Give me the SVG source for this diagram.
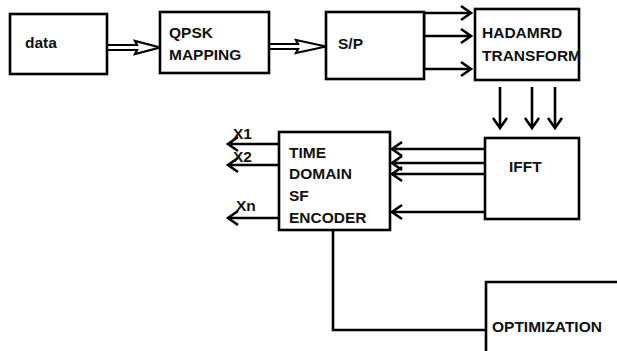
<svg xmlns="http://www.w3.org/2000/svg" width="617" height="351" viewBox="0 0 617 351">
<defs>
<style>
.box{fill:#fff;stroke:#000;stroke-width:2.6}
.ln{fill:none;stroke:#000;stroke-width:2.6}
.dbl{fill:none;stroke:#000;stroke-width:2.2;stroke-linejoin:miter}
text{font-family:"Liberation Sans",Arial,sans-serif;font-weight:bold;font-size:15.5px;fill:#111}
</style>
<marker id="chev" markerUnits="userSpaceOnUse" markerWidth="16" markerHeight="18" refX="12" refY="8" orient="auto" viewBox="0 0 16 16">
<path d="M2,1 L12,8 L2,15" fill="none" stroke="#000" stroke-width="2.6"/>
</marker>
</defs>
<rect width="617" height="351" fill="#fff"/>
<g id="connectors">
<path class="dbl" d="M107,45 H137 L135,41 L160,47.5 L135,54 L137,50 H107"/>
<path class="dbl" d="M269,44 H298 L296,40 L326,46.5 L296,53 L298,49 H269"/>
<path class="ln" d="M424,12 V69"/>
<path class="ln" d="M424,13 H471" marker-end="url(#chev)"/>
<path class="ln" d="M424,36 H471" marker-end="url(#chev)"/>
<path class="ln" d="M424,69 H471" marker-end="url(#chev)"/>
<path class="ln" d="M500,87 V128" marker-end="url(#chev)"/>
<path class="ln" d="M532,87 V128" marker-end="url(#chev)"/>
<path class="ln" d="M555,87 V128" marker-end="url(#chev)"/>
<path class="ln" d="M485,149 H392" marker-end="url(#chev)"/>
<path class="ln" d="M485,163 H392" marker-end="url(#chev)"/>
<path class="ln" d="M485,174 H392" marker-end="url(#chev)"/>
<path class="ln" d="M485,212 H392" marker-end="url(#chev)"/>
<path class="ln" d="M279,144 H228" marker-end="url(#chev)"/>
<path class="ln" d="M283,165 H228" marker-end="url(#chev)"/>
<path class="ln" d="M279,218 H228" marker-end="url(#chev)"/>
<path class="ln" d="M333,230 V330 H486"/>
</g>
<g id="data"><rect class="box" x="10" y="14" width="97" height="60"/><text x="25" y="48">data</text></g>
<g id="qpsk"><rect class="box" x="160" y="12" width="109" height="61"/><text x="169" y="38">QPSK</text><text x="169" y="60">MAPPING</text></g>
<g id="sp"><rect class="box" x="326" y="12" width="98" height="67"/><text x="338" y="49">S/P</text></g>
<g id="hadamard"><rect class="box" x="475" y="9" width="104" height="71"/><text x="482" y="38">HADAMRD</text><text x="482" y="61">TRANSFORM</text></g>
<g id="ifft"><rect class="box" x="485" y="138" width="94" height="81"/><text x="509" y="172">IFFT</text></g>
<g id="encoder"><rect class="box" x="279" y="132" width="111" height="98"/><text x="289" y="158">TIME</text><text x="289" y="179">DOMAIN</text><text x="289" y="201">SF</text><text x="289" y="223">ENCODER</text></g>
<g id="outputs"><text x="233" y="139">X1</text><text x="233" y="162">X2</text><text x="236" y="211">Xn</text></g>
<g id="optimization"><path class="ln" d="M486,351 V282 H617"/><text x="492" y="332">OPTIMIZATION</text></g>
</svg>
